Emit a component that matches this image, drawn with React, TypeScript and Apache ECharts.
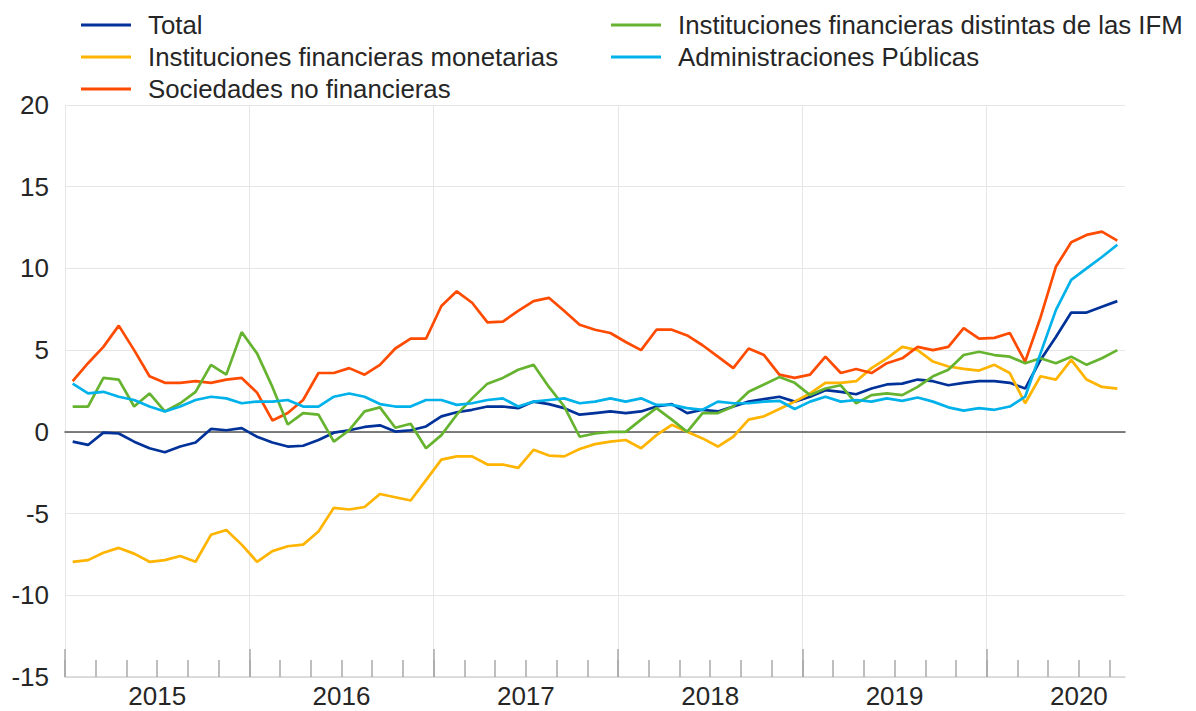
import React, { useEffect, useRef } from 'react';
import * as echarts from 'echarts';

// ---- categories ----
const years = ['2015', '2016', '2017', '2018', '2019', '2020'];
const monthCodes = ['01', '02', '03', '04', '05', '06', '07', '08', '09', '10', '11', '12'];
const lastMonth = '2020-09';
const categories: string[] = [];
years.forEach((y) =>
  monthCodes.forEach((m) => {
    const c = `${y}-${m}`;
    if (c <= lastMonth) categories.push(c);
  })
);

// ---- y-axis ticks ----
const yMin = -15;
const yMax = 20;
const yStep = 5;

// ---- series names ----
const nameTotal = 'Total';
const nameMFI = 'Instituciones financieras monetarias';
const nameNFC = 'Sociedades no financieras';
const nameOFI = 'Instituciones financieras distintas de las IFM';
const nameGG = 'Administraciones Públicas';

// ---- series values (Jan 2015 – Sep 2020) ----
const total = [
  -0.6, -0.8, -0.05, -0.1, -0.6, -1.0, -1.25, -0.9, -0.65, 0.18, 0.1, 0.23,
  -0.3, -0.65, -0.9, -0.85, -0.5, -0.05, 0.1, 0.3, 0.4, 0.02, 0.1, 0.33,
  0.95, 1.2, 1.35, 1.55, 1.55, 1.45, 1.85, 1.7, 1.45, 1.05, 1.15, 1.25,
  1.15, 1.25, 1.55, 1.7, 1.15, 1.35, 1.25, 1.55, 1.85, 2.0, 2.15, 1.85,
  2.15, 2.55, 2.45, 2.3, 2.65, 2.9, 2.95, 3.2, 3.1, 2.85, 3.0, 3.1,
  3.1, 3.0, 2.65, 4.4, 5.8, 7.3, 7.3, 7.65, 8.0,
];
const mfi = [
  -7.95, -7.85, -7.4, -7.1, -7.45, -7.95, -7.85, -7.6, -7.95, -6.3, -6.0, -6.9,
  -7.95, -7.3, -7.0, -6.9, -6.1, -4.65, -4.75, -4.6, -3.8, -4.0, -4.2, -2.95,
  -1.7, -1.5, -1.5, -2.0, -2.0, -2.2, -1.1, -1.45, -1.5, -1.05, -0.75, -0.6,
  -0.5, -1.0, -0.2, 0.43, 0.0, -0.4, -0.9, -0.3, 0.75, 0.95, 1.4, 1.85,
  2.35, 3.0, 3.0, 3.1, 3.9, 4.5, 5.2, 5.0, 4.3, 4.0, 3.85, 3.75,
  4.1, 3.6, 1.75, 3.4, 3.2, 4.4, 3.2, 2.75, 2.65,
];
const nfc = [
  3.1, 4.2, 5.2, 6.5, 5.0, 3.4, 3.0, 3.0, 3.1, 3.0, 3.2, 3.3,
  2.4, 0.7, 1.15, 1.95, 3.6, 3.6, 3.9, 3.5, 4.1, 5.1, 5.7, 5.7,
  7.7, 8.6, 7.9, 6.7, 6.75, 7.4, 8.0, 8.2, 7.4, 6.55, 6.25, 6.05,
  5.5, 5.0, 6.25, 6.25, 5.9, 5.3, 4.6, 3.9, 5.1, 4.7, 3.5, 3.3,
  3.5, 4.6, 3.6, 3.85, 3.6, 4.2, 4.5, 5.2, 5.0, 5.2, 6.35, 5.7,
  5.75, 6.05, 4.3, 7.0, 10.1, 11.6, 12.05, 12.25, 11.7,
];
const ofi = [
  1.55, 1.55, 3.3, 3.2, 1.55, 2.35, 1.25, 1.75, 2.45, 4.1, 3.5, 6.1,
  4.8, 2.75, 0.45, 1.15, 1.05, -0.6, 0.1, 1.25, 1.5, 0.25, 0.5, -1.0,
  -0.2, 1.05, 2.05, 2.95, 3.3, 3.8, 4.1, 2.75, 1.55, -0.3, -0.1, 0.0,
  0.0, 0.75, 1.45, 0.75, 0.0, 1.15, 1.15, 1.55, 2.45, 2.9, 3.35, 3.0,
  2.25, 2.65, 2.85, 1.75, 2.25, 2.35, 2.25, 2.75, 3.4, 3.8, 4.7, 4.9,
  4.7, 4.6, 4.2, 4.5, 4.2, 4.6, 4.1, 4.5, 5.0,
];
const gg = [
  2.95, 2.35, 2.45, 2.15, 1.95, 1.55, 1.25, 1.55, 1.95, 2.15, 2.05, 1.75,
  1.85, 1.85, 1.95, 1.55, 1.55, 2.15, 2.35, 2.15, 1.7, 1.55, 1.55, 1.95,
  1.95, 1.65, 1.75, 1.95, 2.05, 1.55, 1.85, 1.95, 2.05, 1.75, 1.85, 2.05,
  1.85, 2.05, 1.65, 1.65, 1.45, 1.35, 1.85, 1.75, 1.75, 1.85, 1.9, 1.4,
  1.85, 2.15, 1.85, 1.95, 1.85, 2.05, 1.9, 2.1, 1.85, 1.5, 1.3, 1.45,
  1.35, 1.55, 2.15, 4.8, 7.45, 9.3, 10.0, 10.7, 11.45,
];

const FONT = "'Liberation Sans', Arial, Helvetica, sans-serif";
const TEXT = '#262626';
const GRID_LINE = '#e6e6e6';
const TICK = '#a8a8a8';

const W = 1196;
const H = 711;
const plotLeft = 65;
const plotRight = 1125;
const plotTop = 105;
const plotBottom = 677;

export default function App() {
  const ref = useRef<HTMLDivElement>(null);

  useEffect(() => {
    if (!ref.current) return;
    const chart = echarts.init(ref.current, undefined, { renderer: 'svg' });
    const n = categories.length;
    const monthW = (plotRight - plotLeft) / n;
    const gridBottom = H - plotBottom;
    const hiddenY = (gridIndex: number) => ({
      type: 'value',
      gridIndex,
      min: yMin,
      max: yMax,
      interval: yStep,
      show: false,
    });

    const mkSeries = (name: string, data: number[], color: string) => ({
      name,
      type: 'line',
      xAxisIndex: 0,
      yAxisIndex: 0,
      data,
      symbol: 'none',
      showSymbol: false,
      lineStyle: { width: 2.7, color },
      itemStyle: { color },
      z: 3,
    });

    const legendBase = {
      orient: 'vertical',
      top: 5,
      icon: 'rect',
      itemWidth: 50,
      itemHeight: 3,
      itemGap: 2,
      selectedMode: false,
      textStyle: {
        fontFamily: FONT,
        fontSize: 25.8,
        color: TEXT,
        lineHeight: 30,
        padding: [0, 0, 0, 12],
      },
    };

    chart.setOption({
      animation: false,
      backgroundColor: '#ffffff',
      legend: [
        { ...legendBase, left: 76, data: [nameTotal, nameMFI, nameNFC] },
        { ...legendBase, left: 606, data: [nameOFI, nameGG] },
      ],
      grid: [
        { left: plotLeft, right: W - plotRight, top: plotTop, bottom: gridBottom },
        { left: plotLeft, width: monthW * 60, top: plotTop, bottom: gridBottom },
        { left: plotLeft, width: monthW * 68, top: plotTop, bottom: gridBottom },
      ],
      xAxis: [
        {
          type: 'category',
          gridIndex: 0,
          data: categories,
          boundaryGap: true,
          axisLine: { show: true, onZero: true, lineStyle: { color: '#555555', width: 1.5 } },
          axisTick: { show: false },
          axisLabel: { show: false },
          splitLine: { show: false },
          z: 1,
        },
        {
          type: 'value',
          gridIndex: 0,
          position: 'bottom',
          min: 0,
          max: n,
          interval: 6,
          axisLine: { show: true, onZero: false, lineStyle: { color: '#d4d4d4', width: 1.5 } },
          axisTick: { show: false },
          splitLine: { show: false },
          axisLabel: {
            show: true,
            margin: 6,
            fontFamily: FONT,
            fontSize: 26,
            color: TEXT,
            formatter: (v: number) => (v % 12 === 6 ? years[(v - 6) / 12] ?? '' : ''),
          },
        },
        {
          type: 'value',
          gridIndex: 1,
          position: 'bottom',
          min: 0,
          max: 5,
          interval: 1,
          axisLine: { show: false, onZero: false },
          axisTick: { show: true, inside: true, length: 28, lineStyle: { color: TICK, width: 1.5 } },
          axisLabel: { show: false },
          splitLine: { show: true, lineStyle: { color: GRID_LINE, width: 1 } },
        },
        {
          type: 'value',
          gridIndex: 2,
          position: 'bottom',
          min: 0,
          max: 34,
          interval: 1,
          axisLine: { show: false, onZero: false },
          axisTick: { show: true, inside: true, length: 17, lineStyle: { color: TICK, width: 1.5 } },
          axisLabel: { show: false },
          splitLine: { show: false },
        },
      ],
      yAxis: [
        {
          type: 'value',
          gridIndex: 0,
          min: yMin,
          max: yMax,
          interval: yStep,
          axisLine: { show: false },
          axisTick: { show: false },
          axisLabel: { margin: 16, fontFamily: FONT, fontSize: 26, color: TEXT },
          splitLine: { show: true, lineStyle: { color: GRID_LINE, width: 1 } },
        },
        hiddenY(1),
        hiddenY(2),
      ],
      series: [
        mkSeries(nameTotal, total, '#003299'),
        mkSeries(nameMFI, mfi, '#ffb400'),
        mkSeries(nameNFC, nfc, '#ff4b00'),
        mkSeries(nameOFI, ofi, '#65b32e'),
        mkSeries(nameGG, gg, '#00b1ea'),
      ],
    });

    return () => chart.dispose();
  }, []);

  return (
    <div
      ref={ref}
      style={{ position: 'absolute', left: 0, top: 0, width: W, height: H, background: '#fff' }}
    />
  );
}
